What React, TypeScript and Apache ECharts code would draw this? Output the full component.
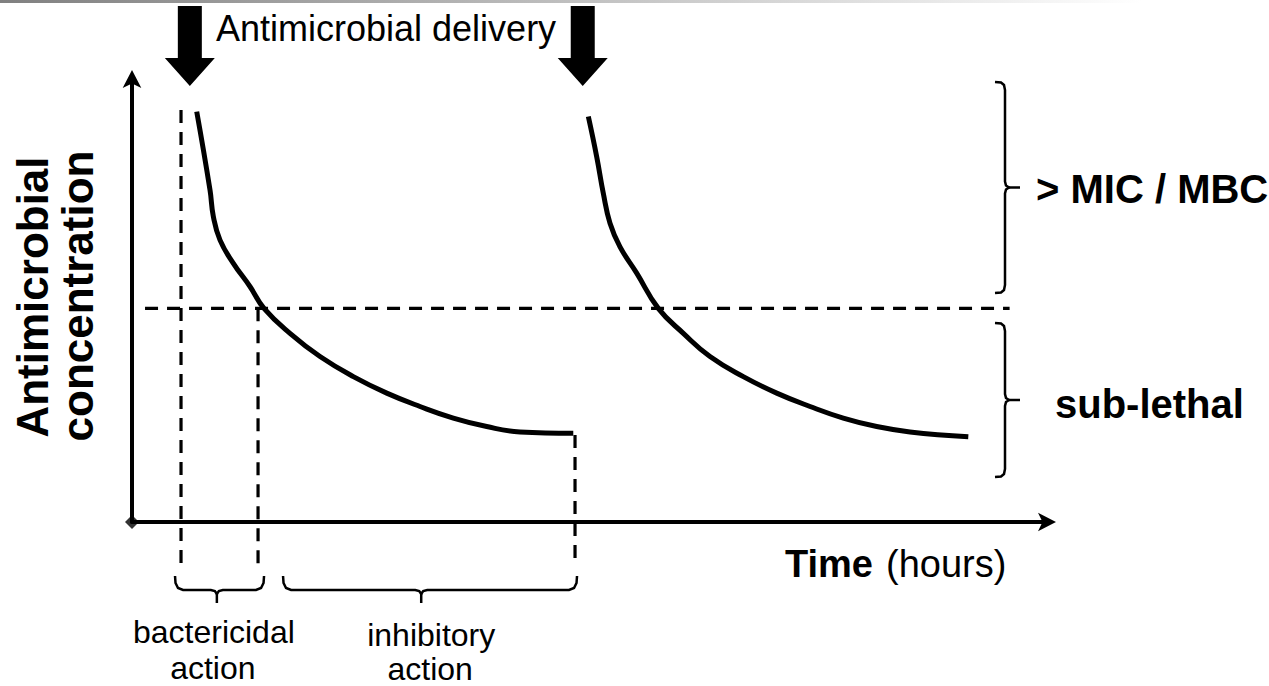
import { useEffect, useRef } from "react";
import * as echarts from "echarts";

// ---- data (time in hours on x, concentration on y; arbitrary units) ----
const curveFirstDose: number[][] = [
  [0.705, 9.2], [0.85, 7.44], [0.886, 6.85], [0.959, 6.32], [1.104, 5.8],
  [1.285, 5.28], [1.438, 4.79], [1.721, 4.23], [2.048, 3.71], [2.411, 3.26],
  [2.775, 2.89], [3.137, 2.59], [3.5, 2.33], [3.864, 2.14], [4.227, 2.02],
  [4.807, 1.99],
];
const curveSecondDose: number[][] = [
  [4.971, 9.09], [5.062, 8.19], [5.134, 7.37], [5.207, 6.7], [5.316, 6.17],
  [5.498, 5.58], [5.733, 4.79], [6.006, 4.23], [6.296, 3.71], [6.659, 3.26],
  [7.023, 2.89], [7.386, 2.59], [7.748, 2.33], [8.112, 2.14], [8.475, 2.02],
  [9.11, 1.91],
];
const micLevel = 4.79;
const micLineRange = [0.142, 9.56];
const deliveryTimes = [0.63, 4.91];
const bactericidalStart = 0.534;
const bactericidalEnd = 1.373;
const inhibitoryEnd = 4.826;
const guideBottom = -0.96;
const guideTops = [9.24, micLevel, 1.95];
const xRange = [0, 10];
const yRange = [0, 10];

const FONT = "'Liberation Sans', Arial, Helvetica, sans-serif";

function txt(
  text: string,
  x: number,
  y: number,
  size: number,
  weight: string,
  align: string,
  rotation = 0
) {
  return {
    type: "text",
    x,
    y,
    rotation,
    style: {
      text,
      fontSize: size,
      fontFamily: FONT,
      fontWeight: weight,
      fill: "#000",
      align,
      verticalAlign: "middle",
      textAlign: align,
      textVerticalAlign: "middle",
    },
  };
}

function bracketRight(x: number, y1: number, y2: number) {
  const ym = (y1 + y2) / 2;
  const xl = x - 10;
  return [
    {
      type: "polyline",
      shape: {
        points: [
          [xl, y1], [x - 4, y1 + 0.5], [x - 1, y1 + 3], [x, y1 + 8],
          [x, ym - 6], [x + 1, ym - 2], [x + 4, ym], [x + 1, ym + 2], [x, ym + 6],
          [x, y2 - 8], [x - 1, y2 - 3], [x - 4, y2 - 0.5], [xl, y2],
        ],
      },
      style: { stroke: "#000", lineWidth: 2.5, fill: "none" },
    },
    {
      type: "line",
      shape: { x1: x + 4, y1: ym, x2: x + 15, y2: ym },
      style: { stroke: "#000", lineWidth: 2.5 },
    },
  ];
}

function bracketBottom(x1: number, x2: number, yTop: number, yBot: number, frac: number) {
  const xm = x1 + (x2 - x1) * frac;
  return [
    {
      type: "polyline",
      shape: {
        points: [
          [x1, yTop], [x1 + 0.5, yBot - 7], [x1 + 3, yBot - 2], [x1 + 8, yBot],
          [xm - 6, yBot], [xm - 2, yBot + 1], [xm, yBot + 4], [xm + 2, yBot + 1], [xm + 6, yBot],
          [x2 - 8, yBot], [x2 - 3, yBot - 2], [x2 - 0.5, yBot - 7], [x2, yTop],
        ],
      },
      style: { stroke: "#000", lineWidth: 2.5, fill: "none" },
    },
    {
      type: "line",
      shape: { x1: xm, y1: yBot + 4, x2: xm, y2: yBot + 13 },
      style: { stroke: "#000", lineWidth: 2.5 },
    },
  ];
}

function dashed(data: number[][]) {
  return {
    type: "line",
    data,
    showSymbol: false,
    clip: false,
    silent: true,
    z: 1,
    lineStyle: { color: "#000", width: 3.2, type: [13, 9] },
  };
}

function curve(data: number[][]) {
  return {
    type: "line",
    data,
    showSymbol: false,
    clip: false,
    silent: true,
    smooth: 0.45,
    z: 3,
    lineStyle: { color: "#000", width: 5, cap: "butt" },
  };
}

const axisCommon = {
  type: "value",
  axisTick: { show: false },
  axisLabel: { show: false },
  splitLine: { show: false },
  axisLine: {
    show: true,
    onZero: false,
    symbol: ["none", "arrow"],
    symbolSize: [14, 18],
    symbolOffset: [0, 6],
    lineStyle: { color: "#000", width: 4 },
  },
};

export default function App() {
  const ref = useRef<HTMLDivElement>(null);
  useEffect(() => {
    const chart = echarts.init(ref.current!, null, { renderer: "svg" });
    const guideXs = [bactericidalStart, bactericidalEnd, inhibitoryEnd];
    chart.setOption({
      animation: false,
      backgroundColor: "#fff",
      grid: { left: 132, top: 76, width: 918, height: 446 },
      xAxis: { ...axisCommon, min: xRange[0], max: xRange[1] },
      yAxis: { ...axisCommon, min: yRange[0], max: yRange[1] },
      series: [
        dashed([[micLineRange[0], micLevel], [micLineRange[1], micLevel]]),
        ...guideXs.map((gx, i) => dashed([[gx, guideTops[i]], [gx, guideBottom]])),
        curve(curveFirstDose),
        curve(curveSecondDose),
        {
          type: "scatter",
          data: [[0, 0]],
          symbol: "diamond",
          symbolSize: 14,
          clip: false,
          silent: true,
          z: 4,
          itemStyle: { color: "#000" },
        },
      ],
    });

    const px = (x: number, y: number) =>
      chart.convertToPixel({ gridIndex: 0 }, [x, y]) as unknown as number[];

    const arrows = deliveryTimes.map((t) => {
      const cx = px(t, 0)[0];
      return {
        type: "polygon",
        shape: {
          points: [
            [cx - 12, 6], [cx + 12, 6], [cx + 12, 58], [cx + 25, 58],
            [cx, 86], [cx - 25, 58], [cx - 12, 58],
          ],
        },
        style: { fill: "#000" },
      };
    });

    const bx1 = px(bactericidalStart, 0)[0] - 6;
    const bx2 = px(bactericidalEnd, 0)[0] + 6;
    const ix1 = px(bactericidalEnd, 0)[0] + 25;
    const ix2 = px(inhibitoryEnd, 0)[0] + 2;
    const frac = 0.47;
    const bMid = bx1 + (bx2 - bx1) * frac;
    const iMid = ix1 + (ix2 - ix1) * frac;

    chart.setOption({
      graphic: {
        elements: [
          {
            type: "rect",
            shape: { x: 0, y: 0, width: 1269, height: 3 },
            style: {
              fill: {
                type: "linear",
                x: 0, y: 0, x2: 1, y2: 0,
                colorStops: [
                  { offset: 0, color: "#808080" },
                  { offset: 0.9, color: "#ffffff" },
                ],
              },
            },
          },
          ...arrows,
          txt("Antimicrobial delivery", 216, 28, 36, "normal", "left"),
          txt("Antimicrobial", 32, 297, 44, "bold", "center", Math.PI / 2),
          txt("concentration", 77, 296, 44, "bold", "center", Math.PI / 2),
          ...bracketRight(1005, 82, 293),
          ...bracketRight(1005, 323, 477),
          txt("> MIC / MBC", 1036, 189, 40, "bold", "left"),
          txt("sub-lethal", 1055, 404, 40, "bold", "left"),
          txt("Time", 785, 564, 38, "bold", "left"),
          txt("(hours)", 886, 564, 38, "normal", "left"),
          ...bracketBottom(bx1, bx2, 576, 590, frac),
          ...bracketBottom(ix1, ix2, 576, 590, frac),
          txt("bactericidal", bMid - 3, 632, 32, "normal", "center"),
          txt("action", bMid - 4, 668, 32, "normal", "center"),
          txt("inhibitory", iMid + 10, 635, 32, "normal", "center"),
          txt("action", iMid + 9, 669, 32, "normal", "center"),
        ],
      },
    });
    return () => chart.dispose();
  }, []);
  return (
    <div
      ref={ref}
      style={{ position: "fixed", left: 0, top: 0, width: 1269, height: 686, background: "#fff" }}
    />
  );
}
